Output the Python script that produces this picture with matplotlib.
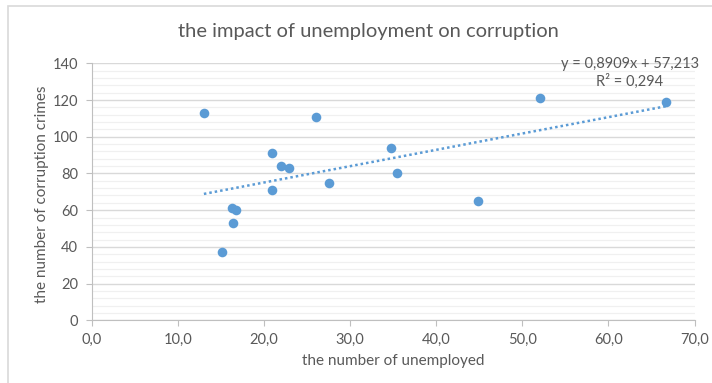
import numpy as np
import matplotlib.pyplot as plt
from matplotlib.patches import Rectangle
from matplotlib.ticker import MultipleLocator, FuncFormatter

# Data
unemployed = [13.0, 26.0, 20.9, 22.0, 22.9, 20.9, 27.5, 34.7, 35.4,
              16.3, 16.7, 16.4, 15.1, 52.0, 66.7, 44.8]
corruption = [113, 111, 91, 84, 83, 71, 75, 94, 80,
              61, 60, 53, 37, 121, 119, 65]

equation_text = "y = 0,8909x + 57,213\nR² = 0,294"

blue = "#5B9BD5"
grey_text = "#595959"

plt.rcParams["font.family"] = ["Lato", "DejaVu Sans"]

fig = plt.figure(figsize=(7.12, 3.83), dpi=100)
ax = fig.add_axes([92 / 712, 1 - 320.3 / 383, (694.5 - 92) / 712, (320.3 - 63.3) / 383])

# chart border
fig.patches.append(Rectangle((8 / 712, -0.1), 1.2, (383 - 6) / 383 + 0.1,
                             transform=fig.transFigure, fill=False,
                             edgecolor="#d9d9d9", linewidth=1.2))

# trendline
x = np.array(unemployed)
y = np.array(corruption)
slope, intercept = np.polyfit(x, y, 1)
xs = np.array([x.min(), x.max()])
ax.plot(xs, slope * xs + intercept, linestyle=(0, (1, 1.2)), color=blue,
        linewidth=1.8, zorder=2)

ax.scatter(x, y, s=48, color=blue, zorder=3, linewidths=0)

ax.set_xlim(0, 70)
ax.set_ylim(0, 140)
ax.xaxis.set_major_locator(MultipleLocator(10))
ax.yaxis.set_major_locator(MultipleLocator(20))
ax.yaxis.set_minor_locator(MultipleLocator(4))
ax.xaxis.set_major_formatter(FuncFormatter(lambda v, p: f"{v:.1f}".replace(".", ",")))

ax.grid(axis="y", which="major", color="#d9d9d9", linewidth=1.0)
ax.grid(axis="y", which="minor", color="#f0f0f0", linewidth=0.9)
ax.set_axisbelow(True)

for s in ["top", "right"]:
    ax.spines[s].set_visible(False)
for s in ["left", "bottom"]:
    ax.spines[s].set_color("#bfbfbf")
ax.tick_params(axis="both", which="major", colors="#bfbfbf", length=4,
               labelcolor=grey_text, labelsize=10.5)
ax.tick_params(axis="y", which="major", pad=6)
ax.tick_params(axis="x", which="major", pad=5)
ax.tick_params(axis="y", which="minor", length=0)

ax.set_xlabel("the number of unemployed", color=grey_text, fontsize=11, labelpad=5)
ax.set_ylabel("the number of corruption crimes", color=grey_text, fontsize=11)
ax.yaxis.set_label_coords(-0.071, 0.49)

fig.text(368 / 712, 1 - 31 / 383, "the impact of unemployment on corruption",
         ha="center", va="center", color=grey_text, fontsize=14.5)

fig.text(630 / 712, 1 - 73 / 383, equation_text, ha="center", va="center",
         color=grey_text, fontsize=10.5, linespacing=1.3)

fig.savefig("out.png", dpi=100)
